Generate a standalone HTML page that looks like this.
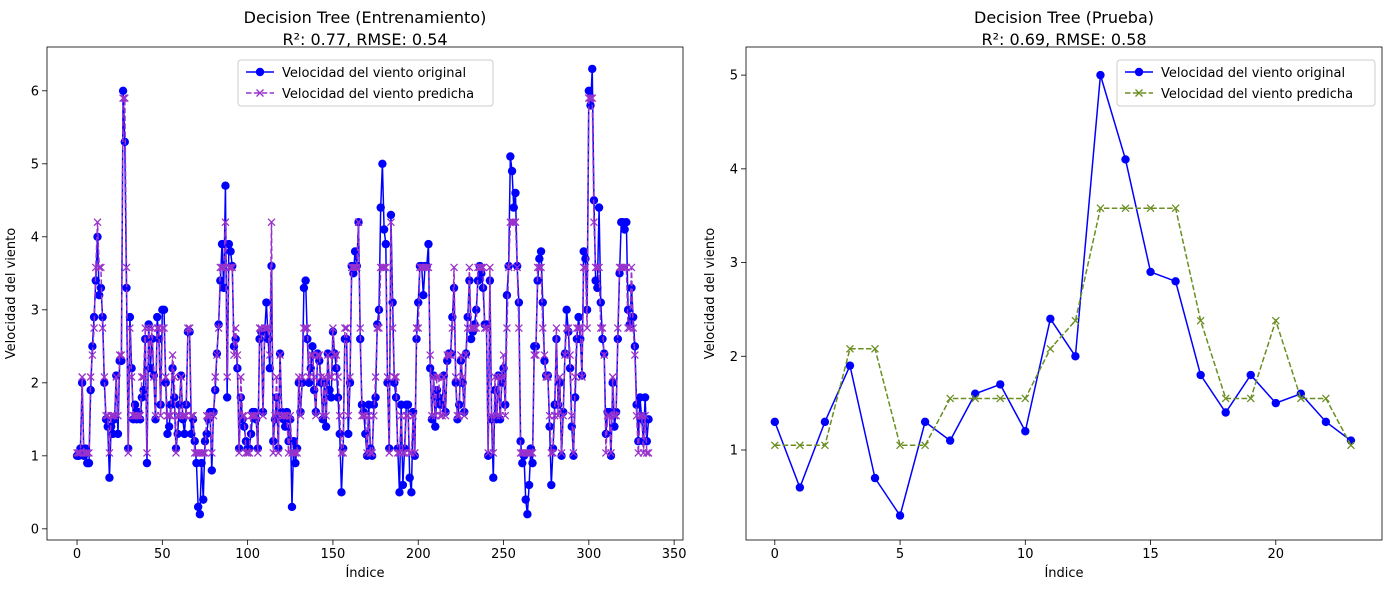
<!DOCTYPE html>
<html><head><meta charset="utf-8"><style>
body{margin:0;background:#fff;}
svg text{font-family:"DejaVu Sans","Liberation Sans",sans-serif;fill:#000;}
</style></head><body>
<svg id="c" width="1390" height="590" xmlns="http://www.w3.org/2000/svg"></svg>
<script>
const trainOriginal=[1.0,1.0,1.1,2.0,1.0,1.1,0.9,0.9,1.9,2.5,2.9,3.4,4.0,3.2,3.3,2.9,2.0,1.5,1.4,0.7,1.4,1.3,1.5,2.1,1.3,2.3,2.3,6.0,5.3,3.3,1.1,2.9,2.2,1.5,1.7,1.5,1.6,1.5,1.8,1.9,2.6,0.9,2.8,2.2,2.6,2.1,1.5,2.9,2.6,1.7,3.0,3.0,2.0,1.3,1.4,1.7,2.2,1.8,1.1,1.3,1.7,2.1,1.5,1.3,1.7,2.7,2.7,1.3,1.5,1.2,0.9,0.3,0.2,0.9,0.4,1.2,1.3,1.5,1.6,0.8,1.6,1.9,2.4,2.8,3.4,3.9,3.3,4.7,1.8,3.9,3.8,3.6,2.5,2.6,2.2,1.1,1.8,1.5,1.4,1.2,1.1,1.1,1.3,1.6,1.6,1.5,1.1,2.6,2.7,1.6,2.7,3.1,2.6,2.2,3.6,1.2,1.5,1.8,1.1,2.4,1.6,1.5,1.4,1.6,1.2,1.5,0.3,1.2,0.9,1.1,2.0,1.6,2.0,3.3,3.4,2.6,2.0,2.2,2.5,1.9,1.6,2.4,2.3,2.0,1.5,2.0,1.4,2.4,1.9,1.8,2.7,2.4,2.2,1.8,1.3,0.5,1.1,2.6,2.6,1.3,2.0,3.6,3.5,3.8,3.6,4.2,2.6,1.7,1.6,1.3,1.0,1.7,1.1,1.0,1.7,1.8,2.8,3.0,4.4,5.0,4.1,3.9,2.0,1.1,4.3,3.1,2.0,1.8,1.1,0.5,1.7,0.6,1.1,1.7,1.7,0.7,0.5,1.6,1.0,2.6,3.1,3.6,3.6,3.2,3.6,3.6,3.9,2.2,1.5,2.1,1.4,1.9,1.8,1.7,1.7,2.1,1.6,2.3,2.4,2.4,2.9,3.3,2.0,1.5,1.7,2.3,2.0,1.6,2.4,2.9,3.4,2.6,2.7,2.8,3.0,3.4,3.6,3.5,3.3,2.8,2.8,1.0,3.4,1.5,0.7,1.9,1.5,2.1,1.5,2.0,2.2,1.7,3.2,3.6,5.1,4.9,4.4,4.6,3.6,3.1,1.2,0.9,1.0,0.4,0.2,0.6,1.1,0.9,2.5,2.5,3.4,3.7,3.8,3.1,2.3,2.1,2.1,1.4,0.6,1.1,1.7,2.6,1.7,2.0,1.0,1.6,2.4,3.0,2.7,2.2,1.4,1.0,1.8,2.6,2.9,2.6,2.1,3.8,3.7,3.0,6.0,5.8,6.3,4.5,3.4,3.3,4.4,3.1,2.6,2.4,1.3,1.6,1.6,1.0,2.0,1.4,1.6,2.6,3.5,4.2,4.2,4.1,4.2,3.0,2.8,3.3,2.9,2.5,1.7,1.2,1.8,1.5,1.2,1.8,1.2,1.5];
const trainPredicted=[1.04,1.04,1.04,2.08,1.04,1.04,1.04,1.04,2.08,2.38,2.75,3.58,4.2,3.58,3.58,2.75,2.08,1.55,1.55,1.04,1.55,1.55,1.55,2.08,1.55,2.38,2.38,5.9,5.9,3.58,1.04,2.75,2.08,1.55,1.55,1.55,1.55,1.55,2.08,2.08,2.75,1.04,2.75,2.38,2.75,2.08,1.55,2.75,2.75,1.55,2.75,2.75,2.08,1.55,1.55,1.55,2.38,2.08,1.04,1.55,1.55,2.08,1.55,1.55,1.55,2.75,2.75,1.55,1.55,1.04,1.04,1.04,1.04,1.04,1.04,1.04,1.55,1.55,1.55,1.04,1.55,2.08,2.38,2.75,3.58,3.58,3.58,4.2,2.08,3.58,3.58,3.58,2.38,2.75,2.38,1.04,2.08,1.55,1.55,1.04,1.04,1.04,1.55,1.55,1.55,1.55,1.04,2.75,2.75,1.55,2.75,2.75,2.75,2.38,4.2,1.04,1.55,2.08,1.04,2.38,1.55,1.55,1.55,1.55,1.04,1.55,1.04,1.04,1.04,1.04,2.08,1.55,2.08,2.75,2.75,2.75,2.08,2.38,2.38,2.08,1.55,2.38,2.38,2.08,1.55,2.08,1.55,2.38,2.08,2.08,2.75,2.38,2.38,2.08,1.55,1.04,1.04,2.75,2.75,1.55,2.08,3.58,3.58,3.58,3.58,4.2,2.75,1.55,1.55,1.55,1.04,1.55,1.04,1.04,1.55,2.08,2.75,2.75,3.58,3.58,3.58,3.58,2.08,1.04,4.2,2.75,2.08,2.08,1.04,1.04,1.55,1.04,1.04,1.55,1.55,1.04,1.04,1.55,1.04,2.75,2.75,3.58,3.58,3.58,3.58,3.58,3.58,2.38,1.55,2.08,1.55,2.08,2.08,1.55,1.55,2.08,1.55,2.38,2.38,2.38,2.75,3.58,2.08,1.55,1.55,2.38,2.08,1.55,2.38,2.75,3.58,2.75,2.75,2.75,2.75,3.58,3.58,3.58,3.58,2.75,2.75,1.04,3.58,1.55,1.04,2.08,1.55,2.08,1.55,2.08,2.38,1.55,2.75,3.58,4.2,4.2,4.2,4.2,3.58,2.75,1.04,1.04,1.04,1.04,1.04,1.04,1.04,1.04,2.38,2.38,3.58,3.58,3.58,2.75,2.38,2.08,2.08,1.55,1.04,1.04,1.55,2.75,1.55,2.08,1.04,1.55,2.38,2.75,2.75,2.38,1.55,1.04,2.08,2.75,2.75,2.75,2.08,3.58,3.58,2.75,5.9,5.9,5.9,4.2,3.58,3.58,3.58,2.75,2.75,2.38,1.04,1.55,1.55,1.04,2.08,1.55,1.55,2.75,3.58,3.58,3.58,3.58,3.58,2.75,2.75,3.58,2.75,2.38,1.55,1.04,1.55,1.55,1.04,1.55,1.04,1.04];
const testOriginal=[1.3,0.6,1.3,1.9,0.7,0.3,1.3,1.1,1.6,1.7,1.2,2.4,2.0,5.0,4.1,2.9,2.8,1.8,1.4,1.8,1.5,1.6,1.3,1.1];
const testPredicted=[1.05,1.05,1.05,2.08,2.08,1.05,1.05,1.55,1.55,1.55,1.55,2.08,2.38,3.58,3.58,3.58,3.58,2.38,1.55,1.55,2.38,1.55,1.55,1.05];
const leftXTicks=[0,50,100,150,200,250,300,350];
const leftYTicks=[0,1,2,3,4,5,6];
const rightXTicks=[0,5,10,15,20];
const rightYTicks=[1,2,3,4,5];

const NS="http://www.w3.org/2000/svg";
const svg=document.getElementById('c');
function mk(tag,attrs,parent){const e=document.createElementNS(NS,tag);for(const k in attrs)e.setAttribute(k,attrs[k]);(parent||svg).appendChild(e);return e;}
function txt(s,x,y,size,anchor,parent,rot){const t=mk('text',{x:x,y:y,'font-size':size,'text-anchor':anchor||'middle'},parent);if(rot)t.setAttribute('transform','rotate(-90 '+x+' '+y+')');t.textContent=s;return t;}

function panel(cfg){
  const g=mk('g',{});
  
  
  const X=v=>cfg.x0+(v-cfg.xmin)*(cfg.x1-cfg.x0)/(cfg.xmax-cfg.xmin);
  const Y=v=>cfg.y1-(v-cfg.ymin)*(cfg.y1-cfg.y0)/(cfg.ymax-cfg.ymin);
  cfg.xt.forEach(v=>{const x=X(v);mk('line',{x1:x,x2:x,y1:cfg.y1,y2:cfg.y1+5,stroke:'#000','stroke-width':0.8},g);
    const t=txt(String(v),x,cfg.y1+18,13,'middle',g);});
  cfg.yt.forEach(v=>{const y=Y(v);mk('line',{x1:cfg.x0-5,x2:cfg.x0,y1:y,y2:y,stroke:'#000','stroke-width':0.8},g);
    const t=txt(String(v),cfg.x0-8,y+4.5,13,'end',g);});
  function series(vals,color,dash,marker,name){
    const sg=mk('g',{},g);
    
    
    const pts=vals.map((v,i)=>X(i).toFixed(2)+','+Y(v).toFixed(2)).join(' ');
    mk('polyline',{points:pts,fill:'none',stroke:color,'stroke-width':1.5,'stroke-dasharray':dash||'none'},sg);
    vals.forEach((v,i)=>{const x=X(i),y=Y(v);
      if(marker==='o'){const c=mk('circle',{cx:x,cy:y,r:4.2,fill:color},sg);}
      else{const p=mk('path',{d:`M${x-3.5},${y-3.5}L${x+3.5},${y+3.5}M${x-3.5},${y+3.5}L${x+3.5},${y-3.5}`,stroke:color,'stroke-width':1.3},sg);}
    });
  }
  series(cfg.orig,'#0000ff',null,'o','series-original');
  series(cfg.pred,cfg.pc,'5.5,2.4','x','series-predicted');
  mk('rect',{x:cfg.x0,y:cfg.y0,width:cfg.x1-cfg.x0,height:cfg.y1-cfg.y0,fill:'none',stroke:'#000','stroke-width':0.8},g);
  const cx=(cfg.x0+cfg.x1)/2;
  let t=txt(cfg.title1,cx,23,16,'middle',g);
  t=txt(cfg.title2,cx,45,16,'middle',g);
  t=txt('Índice',cx,577,13,'middle',g);
  t=txt('Velocidad del viento',cfg.x0-32,(cfg.y0+cfg.y1)/2,13,'middle',g,true);
  const lg=mk('g',{},g);
  
  
  mk('rect',{x:cfg.lx,y:60,width:cfg.lw,height:46,rx:3,fill:'#fff','fill-opacity':0.85,stroke:'#ccc'},lg);
  mk('line',{x1:cfg.lx+8,x2:cfg.lx+36,y1:72,y2:72,stroke:'#0000ff','stroke-width':1.5},lg);
  mk('circle',{cx:cfg.lx+22,cy:72,r:4.2,fill:'#0000ff'},lg);
  t=txt('Velocidad del viento original',cfg.lx+44,77,13,'start',lg);
  mk('line',{x1:cfg.lx+8,x2:cfg.lx+36,y1:93,y2:93,stroke:cfg.pc,'stroke-width':1.5,'stroke-dasharray':'5.5,2.4'},lg);
  mk('path',{d:`M${cfg.lx+18.5},89.5L${cfg.lx+25.5},96.5M${cfg.lx+18.5},96.5L${cfg.lx+25.5},89.5`,stroke:cfg.pc,'stroke-width':1.3},lg);
  t=txt('Velocidad del viento predicha',cfg.lx+44,98,13,'start',lg);
}
panel({name:'train-chart',x0:47,x1:683,y0:47,y1:540,xmin:-17.6,xmax:355.2,ymin:-0.153,ymax:6.6,
  xt:leftXTicks,yt:leftYTicks,orig:trainOriginal,pred:trainPredicted,pc:'#9932cc',
  title1:'Decision Tree (Entrenamiento)',title2:'R²: 0.77, RMSE: 0.54',lx:238,lw:255});
panel({name:'test-chart',x0:746,x1:1382,y0:47,y1:540,xmin:-1.15,xmax:24.24,ymin:0.0396,ymax:5.3,
  xt:rightXTicks,yt:rightYTicks,orig:testOriginal,pred:testPredicted,pc:'#6b8e23',
  title1:'Decision Tree (Prueba)',title2:'R²: 0.69, RMSE: 0.58',lx:1117,lw:258});
</script>
</body></html>
